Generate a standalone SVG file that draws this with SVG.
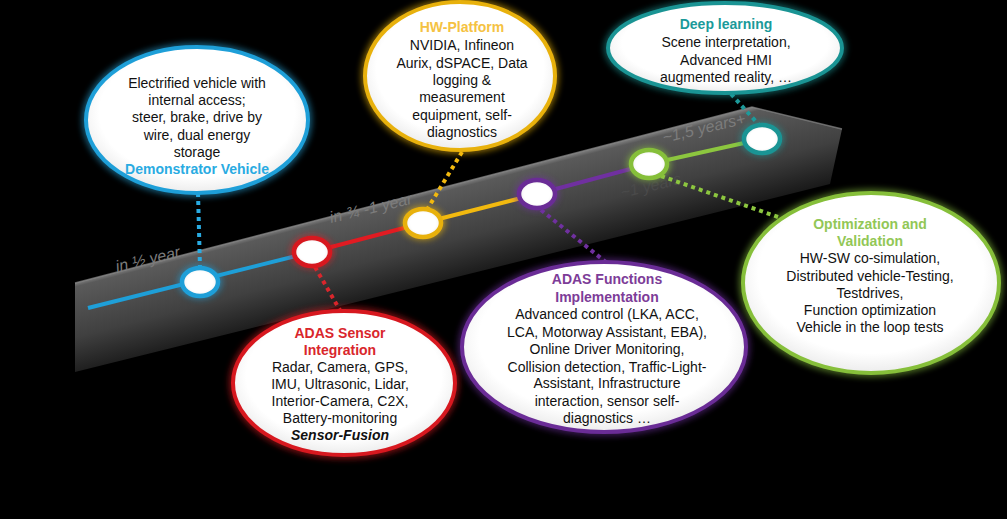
<svg xmlns="http://www.w3.org/2000/svg" width="1007" height="519" viewBox="0 0 1007 519">
<defs>
<linearGradient id="arrowGrad" gradientUnits="userSpaceOnUse" x1="400" y1="199" x2="424" y2="292">
<stop offset="0" stop-color="#7a7a7a"/>
<stop offset="0.04" stop-color="#5a5a5a"/>
<stop offset="0.55" stop-color="#404040"/>
<stop offset="1" stop-color="#161616"/>
</linearGradient>
<radialGradient id="fillCallout" cx="0.5" cy="0.45" r="0.55">
<stop offset="0" stop-color="#ffffff"/>
<stop offset="0.8" stop-color="#ffffff"/>
<stop offset="1" stop-color="#ececec"/>
</radialGradient>
<radialGradient id="fillDot" cx="0.5" cy="0.5" r="0.5">
<stop offset="0" stop-color="#ffffff"/>
<stop offset="0.7" stop-color="#ffffff"/>
<stop offset="1" stop-color="#f0f0f0"/>
</radialGradient>
<filter id="glow" x="-20%" y="-20%" width="140%" height="140%">
<feGaussianBlur stdDeviation="3"/>
</filter>
</defs>
<style>
.t{font-family:"Liberation Sans",Arial,sans-serif;font-size:14px;fill:#111;text-anchor:middle}
.h{font-weight:bold}
.lab{font-family:"Liberation Sans",Arial,sans-serif;font-size:16px;fill:#7c7c7c;font-style:italic}
.co{fill:url(#fillCallout);stroke-width:4}
.halo{fill:none;stroke-width:8;opacity:0.55}
.ms{fill:url(#fillDot);stroke-width:4.5}
.seg{stroke-width:4;fill:none}
.dot{stroke-width:4;stroke-dasharray:4 4;fill:none}
</style>
<rect width="1007" height="519" fill="#000"/>

<g id="arrow">
<path d="M75,283 L752,107 L842,129 L830,184 L75,372 Z" fill="url(#arrowGrad)"/>
<path d="M75,283 L752,107 L842,129" fill="none" stroke="#8a8a8a" stroke-width="1.5" opacity="0.7"/>
<text class="lab" transform="translate(117,272) rotate(-13.3)">in ½ year</text>
<text class="lab" transform="translate(331,223) rotate(-13.3)">in ¾ -1 year</text>
<text class="lab" transform="translate(622,198) rotate(-13.3)" style="fill:#4a4a4a">~1 years</text>
<text class="lab" transform="translate(664,143) rotate(-13.3)">~1,5 years+</text>
</g>

<g id="connectors">
<line class="seg" stroke="#1e9fd8" x1="88" y1="308" x2="312" y2="252"/>
<line class="seg" stroke="#e11b22" x1="312" y1="252" x2="423" y2="223"/>
<line class="seg" stroke="#f2b90f" x1="423" y1="223" x2="537" y2="194"/>
<line class="seg" stroke="#7030a0" x1="537" y1="194" x2="649" y2="164"/>
<line class="seg" stroke="#8cc63f" x1="649" y1="164" x2="762" y2="139"/>
<line class="dot" stroke="#29abe2" x1="198" y1="193" x2="200" y2="268"/>
<line class="dot" stroke="#f2b90f" x1="462" y1="152" x2="428" y2="208"/>
<line class="dot" stroke="#1d9a9a" x1="731" y1="94" x2="760" y2="126"/>
<line class="dot" stroke="#d9262c" x1="315" y1="267" x2="341" y2="312"/>
<line class="dot" stroke="#7030a0" x1="541" y1="210" x2="607" y2="263"/>
<line class="dot" stroke="#8cc63f" x1="661" y1="176" x2="778" y2="217"/>
</g>

<g id="milestone-blue"><ellipse cx="200" cy="282" rx="22" ry="17" fill="#1e9fd8" filter="url(#glow)" opacity="0.6"/><ellipse class="ms" stroke="#1e9fd8" cx="200" cy="282" rx="18" ry="14"/></g>
<g id="milestone-red"><ellipse cx="312" cy="252" rx="22" ry="17" fill="#e11b22" filter="url(#glow)" opacity="0.6"/><ellipse class="ms" stroke="#d7181f" cx="312" cy="252" rx="18" ry="14"/></g>
<g id="milestone-yellow"><ellipse cx="423" cy="223" rx="22" ry="17" fill="#f2b90f" filter="url(#glow)" opacity="0.6"/><ellipse class="ms" stroke="#e8b10c" cx="423" cy="223" rx="18" ry="14"/></g>
<g id="milestone-purple"><ellipse cx="537" cy="194" rx="22" ry="17" fill="#7030a0" filter="url(#glow)" opacity="0.6"/><ellipse class="ms" stroke="#6a2c96" cx="537" cy="194" rx="18" ry="14"/></g>
<g id="milestone-green"><ellipse cx="649" cy="164" rx="22" ry="17" fill="#8cc63f" filter="url(#glow)" opacity="0.6"/><ellipse class="ms" stroke="#86bf3a" cx="649" cy="164" rx="18" ry="14"/></g>
<g id="milestone-teal"><ellipse cx="762" cy="139" rx="22" ry="17" fill="#1d9a9a" filter="url(#glow)" opacity="0.6"/><ellipse class="ms" stroke="#1a9494" cx="762" cy="139" rx="18" ry="14"/></g>

<g id="demonstrator-vehicle">
<ellipse class="halo" stroke="#29abe2" cx="197" cy="120" rx="111" ry="73" filter="url(#glow)"/>
<ellipse class="co" stroke="#1e9fd8" cx="197" cy="120" rx="111" ry="73"/>
<text class="t" x="197" y="88">Electrified vehicle with</text>
<text class="t" x="197" y="105">internal access;</text>
<text class="t" x="197" y="122">steer, brake, drive by</text>
<text class="t" x="197" y="140">wire, dual energy</text>
<text class="t" x="197" y="157">storage</text>
<text class="t h" x="197" y="174" style="fill:#29abe2">Demonstrator Vehicle</text>
</g>

<g id="hw-platform">
<ellipse class="halo" stroke="#f2b90f" cx="460" cy="76" rx="95" ry="74" filter="url(#glow)"/>
<ellipse class="co" stroke="#e8b10c" cx="460" cy="76" rx="95" ry="74"/>
<text class="t h" x="462" y="32" style="fill:#f5c242">HW-Platform</text>
<text class="t" x="462" y="50">NVIDIA, Infineon</text>
<text class="t" x="462" y="68">Aurix, dSPACE, Data</text>
<text class="t" x="462" y="85">logging &amp;</text>
<text class="t" x="462" y="102">measurement</text>
<text class="t" x="462" y="120">equipment, self-</text>
<text class="t" x="462" y="137">diagnostics</text>
</g>

<g id="deep-learning">
<ellipse class="halo" stroke="#1d9a9a" cx="725" cy="48" rx="117" ry="45" filter="url(#glow)"/>
<ellipse class="co" stroke="#1a9494" cx="725" cy="48" rx="117" ry="45"/>
<text class="t h" x="726" y="29" style="fill:#1a9a9a">Deep learning</text>
<text class="t" x="726" y="47">Scene interpretation,</text>
<text class="t" x="726" y="65">Advanced HMI</text>
<text class="t" x="726" y="82">augmented reality, …</text>
</g>

<g id="adas-sensor-integration">
<ellipse class="halo" stroke="#e11b22" cx="344" cy="383" rx="111" ry="72" filter="url(#glow)"/>
<ellipse class="co" stroke="#d7181f" cx="344" cy="383" rx="111" ry="72"/>
<text class="t h" x="340" y="338" style="fill:#d9262c">ADAS Sensor</text>
<text class="t h" x="340" y="355" style="fill:#d9262c">Integration</text>
<text class="t" x="340" y="372">Radar, Camera, GPS,</text>
<text class="t" x="340" y="389">IMU, Ultrasonic, Lidar,</text>
<text class="t" x="340" y="406">Interior-Camera, C2X,</text>
<text class="t" x="340" y="423">Battery-monitoring</text>
<text class="t h" x="340" y="440" style="font-style:italic">Sensor-Fusion</text>
</g>

<g id="adas-functions">
<ellipse class="halo" stroke="#7030a0" cx="604" cy="347" rx="142" ry="85" filter="url(#glow)"/>
<ellipse class="co" stroke="#6a2c96" cx="604" cy="347" rx="142" ry="85"/>
<text class="t h" x="607" y="284" style="fill:#7d3c98">ADAS Functions</text>
<text class="t h" x="607" y="302" style="fill:#7d3c98">Implementation</text>
<text class="t" x="607" y="319">Advanced control (LKA, ACC,</text>
<text class="t" x="607" y="337">LCA, Motorway Assistant, EBA),</text>
<text class="t" x="607" y="354">Online Driver Monitoring,</text>
<text class="t" x="607" y="372">Collision detection, Traffic-Light-</text>
<text class="t" x="607" y="388">Assistant, Infrastructure</text>
<text class="t" x="607" y="406">interaction, sensor self-</text>
<text class="t" x="607" y="423">diagnostics …</text>
</g>

<g id="optimization-validation">
<ellipse class="halo" stroke="#8cc63f" cx="871" cy="283" rx="128" ry="90" filter="url(#glow)"/>
<ellipse class="co" stroke="#86bf3a" cx="871" cy="283" rx="128" ry="90"/>
<text class="t h" x="870" y="229" style="fill:#92c756">Optimization and</text>
<text class="t h" x="870" y="246" style="fill:#92c756">Validation</text>
<text class="t" x="870" y="263">HW-SW co-simulation,</text>
<text class="t" x="870" y="281">Distributed vehicle-Testing,</text>
<text class="t" x="870" y="298">Testdrives,</text>
<text class="t" x="870" y="315">Function optimization</text>
<text class="t" x="870" y="332">Vehicle in the loop tests</text>
</g>
</svg>
